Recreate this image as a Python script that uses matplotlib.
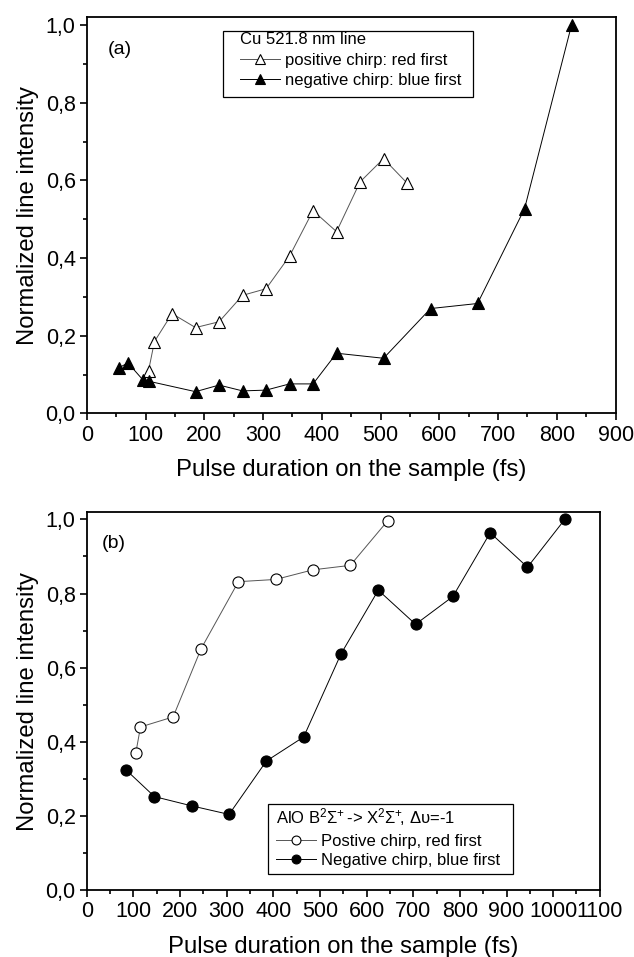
import matplotlib
matplotlib.use("Agg")
import matplotlib.pyplot as plt
from matplotlib.ticker import MultipleLocator, FuncFormatter
from matplotlib.patches import Rectangle

plt.rcParams['font.family'] = ['Liberation Sans', 'DejaVu Sans']
plt.rcParams['mathtext.fontset'] = 'custom'
plt.rcParams['mathtext.rm'] = 'Liberation Sans'
plt.rcParams['mathtext.it'] = 'Liberation Sans:italic'

# Panel (a): Cu 521.8 nm line
a_pos_x = [105, 115, 145, 185, 225, 265, 305, 345, 385, 425, 465, 505, 545]
a_pos_y = [0.11, 0.185, 0.257, 0.221, 0.236, 0.304, 0.321, 0.405, 0.522, 0.468, 0.596, 0.656, 0.593]
a_neg_x = [55, 70, 95, 105, 185, 225, 265, 305, 345, 385, 425, 505, 585, 665, 745, 825]
a_neg_y = [0.118, 0.130, 0.087, 0.083, 0.056, 0.073, 0.058, 0.060, 0.076, 0.076, 0.155, 0.142, 0.270, 0.283, 0.527, 1.0]

# Panel (b): AlO band
b_pos_x = [105, 115, 185, 245, 325, 405, 485, 565, 645]
b_pos_y = [0.370, 0.440, 0.467, 0.651, 0.832, 0.838, 0.864, 0.876, 0.996]
b_neg_x = [85, 145, 225, 305, 385, 465, 545, 625, 705, 785, 865, 945, 1025]
b_neg_y = [0.323, 0.252, 0.227, 0.204, 0.348, 0.413, 0.637, 0.809, 0.717, 0.792, 0.964, 0.871, 1.0]

a_labels = ['positive chirp: red first', 'negative chirp: blue first']
a_title = 'Cu 521.8 nm line'
b_labels = ['Postive chirp, red first', 'Negative chirp, blue first']
b_title = r'AlO B$^{2}\Sigma^{+}\!$ -> X$^{2}\Sigma^{+}\!$, Δυ=-1'
xlabel = 'Pulse duration on the sample (fs)'
ylabel = 'Normalized line intensity'

fig = plt.figure(figsize=(6.34, 9.57), dpi=100)
ax1 = fig.add_axes([0.137, 0.568, 0.834, 0.414])
ax2 = fig.add_axes([0.137, 0.070, 0.809, 0.395])

comma = FuncFormatter(lambda v, p: f'{v:.1f}'.replace('.', ','))

def style(ax, xmax, xmajor):
    ax.set_xlim(0, xmax)
    ax.set_ylim(0, 1.02)
    ax.xaxis.set_major_locator(MultipleLocator(xmajor))
    ax.xaxis.set_minor_locator(MultipleLocator(xmajor / 2))
    ax.yaxis.set_major_locator(MultipleLocator(0.2))
    ax.yaxis.set_minor_locator(MultipleLocator(0.1))
    ax.yaxis.set_major_formatter(comma)
    ax.tick_params(which='major', direction='out', length=5, width=1.2,
                   labelsize=15.5, pad=3)
    ax.tick_params(which='minor', direction='out', length=3, width=1.2)
    for s in ax.spines.values():
        s.set_linewidth(1.3)
    ax.set_xlabel(xlabel, fontsize=17.2, labelpad=10)
    ax.set_ylabel(ylabel, fontsize=17.2, labelpad=5)

def legend_box(ax, title, anchor, rect):
    leg = ax.legend(title=title, loc='upper left', bbox_to_anchor=anchor,
                    fontsize=12, title_fontsize=12, alignment='left',
                    frameon=False, handlelength=2.4, handletextpad=0.3,
                    borderpad=0.0, borderaxespad=0.0, labelspacing=0.28,
                    markerscale=0.8)
    leg._legend_box.sep = 4
    ax.add_patch(Rectangle(rect[:2], rect[2], rect[3], transform=ax.transAxes,
                           fill=False, edgecolor='black', lw=0.9, zorder=5))
    return leg

lw = 0.7
ax1.plot(a_pos_x, a_pos_y, color='#555555', lw=lw, marker='^', ms=9,
         mfc='white', mec='black', mew=0.8, label=a_labels[0])
ax1.plot(a_neg_x, a_neg_y, color='black', lw=lw, marker='^', ms=9,
         mfc='black', mec='black', mew=0.8, label=a_labels[1])
style(ax1, 900, 100)
ax1.text(0.04, 0.94, '(a)', transform=ax1.transAxes, fontsize=14, va='top')
legend_box(ax1, a_title, (0.289, 0.962), (0.2575, 0.798, 0.4735, 0.167))

ax2.plot(b_pos_x, b_pos_y, color='#555555', lw=lw, marker='o', ms=8,
         mfc='white', mec='black', mew=0.8, label=b_labels[0])
ax2.plot(b_neg_x, b_neg_y, color='black', lw=lw, marker='o', ms=8,
         mfc='black', mec='black', mew=0.8, label=b_labels[1])
style(ax2, 1100, 100)
ax2.text(0.03, 0.94, '(b)', transform=ax2.transAxes, fontsize=14, va='top')
legend_box(ax2, b_title, (0.368, 0.222), (0.353, 0.042, 0.477, 0.185))

fig.savefig('out.png', dpi=100)
